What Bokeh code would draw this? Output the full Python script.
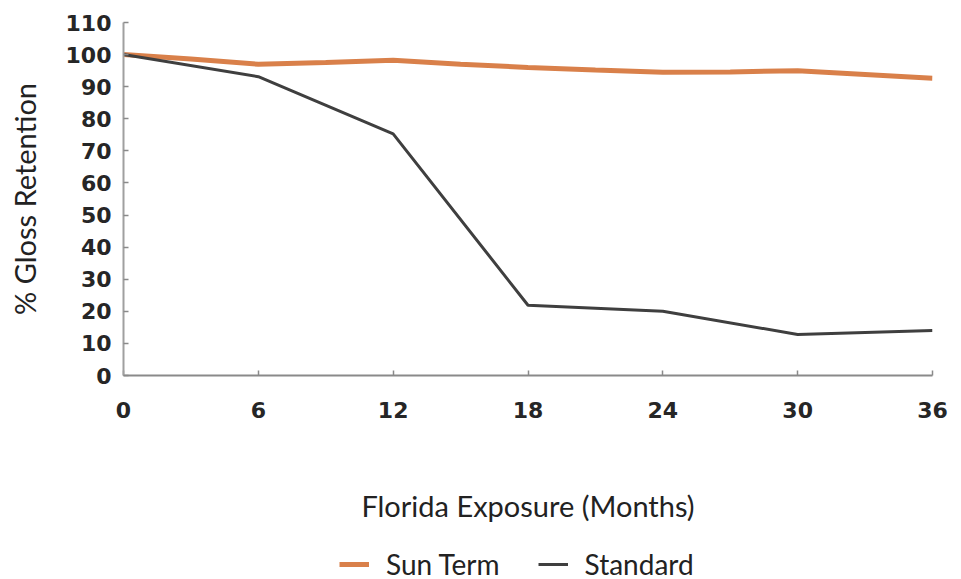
from bokeh.plotting import figure
from bokeh.layouts import column
from bokeh.models import Legend, LegendItem, Range1d, FixedTicker
from bokeh.embed import file_html
from bokeh.resources import INLINE

months_sun = [0, 3, 6, 9, 12, 15, 18, 21, 24, 27, 30, 33, 36]
sun_term = [100, 98.6, 97.0, 97.5, 98.2, 97.0, 96.0, 95.2, 94.5, 94.6, 95.0, 93.8, 92.6]
months_std = [0, 6, 12, 18, 24, 30, 36]
standard = [100, 93.1, 75.3, 21.9, 20.0, 12.8, 14.0]
x_ticks = [0, 6, 12, 18, 24, 30, 36]
y_ticks = [0, 10, 20, 30, 40, 50, 60, 70, 80, 90, 100, 110]
series_names = ["Sun Term", "Standard"]

ORANGE = "#D9804A"
DARK = "#3f3f3f"
W = 952

p = figure(width=W, height=538, output_backend="svg", toolbar_location=None,
           x_range=Range1d(0, 36), y_range=Range1d(0, 110),
           min_border_left=123, min_border_right=20, min_border_top=22,
           min_border_bottom=163)
p.outline_line_color = None
p.grid.grid_line_color = None
p.background_fill_color = "white"
p.border_fill_color = "white"

p.line(months_sun, sun_term, line_color=ORANGE, line_width=5)
p.line(months_std, standard, line_color=DARK, line_width=3)

for ax in (p.xaxis[0], p.yaxis[0]):
    ax.axis_line_color = "#8a8a8a"
    ax.axis_line_width = 2
    ax.major_tick_line_color = "#8a8a8a"
    ax.major_tick_line_width = 1.5
    ax.major_tick_in = 5
    ax.major_tick_out = 0
    ax.minor_tick_line_color = None
    ax.major_label_text_font = "DejaVu Sans"
    ax.major_label_text_font_style = "bold"
    ax.major_label_text_font_size = "22px"
    ax.major_label_text_color = "#262626"
    ax.axis_label_text_font = "Lato"
    ax.axis_label_text_font_style = "normal"
    ax.axis_label_text_color = "#222222"

p.yaxis[0].axis_line_color = "#a0a0a0"
p.xaxis[0].ticker = FixedTicker(ticks=x_ticks)
p.yaxis[0].ticker = FixedTicker(ticks=y_ticks)
p.xaxis[0].major_label_standoff = 26
p.yaxis[0].major_label_standoff = 12
p.xaxis[0].axis_label = "Florida Exposure (Months)"
p.xaxis[0].axis_label_text_font_size = "29px"
p.xaxis[0].axis_label_standoff = 67
p.yaxis[0].axis_label = "% Gloss Retention"
p.yaxis[0].axis_label_text_font_size = "29px"
p.yaxis[0].axis_label_standoff = 21

# legend strip (its lines hold the same series, kept outside the strip's visible range)
pl = figure(width=W, height=38, output_backend="svg", toolbar_location=None,
            x_range=Range1d(0, 36), y_range=Range1d(1000, 1001), min_border=0)
pl.axis.visible = False
pl.grid.grid_line_color = None
pl.outline_line_color = None
pl.background_fill_color = "white"
pl.border_fill_color = "white"
r1 = pl.line(months_sun, sun_term, line_color=ORANGE, line_width=5)
r2 = pl.line(months_std, standard, line_color=DARK, line_width=3)
legend = Legend(items=[LegendItem(label=series_names[0], renderers=[r1]),
                       LegendItem(label=series_names[1], renderers=[r2])],
                orientation="horizontal", location=(216, -5),
                border_line_color=None, background_fill_alpha=0,
                label_text_font="Lato", label_text_font_size="28px",
                label_text_color="#222222", glyph_width=30, glyph_height=14,
                label_height=30, label_standoff=17, spacing=38, margin=0, padding=0)
pl.add_layout(legend, "center")

layout = column(p, pl, spacing=0)
open("out.html", "w").write(file_html(layout, INLINE))
